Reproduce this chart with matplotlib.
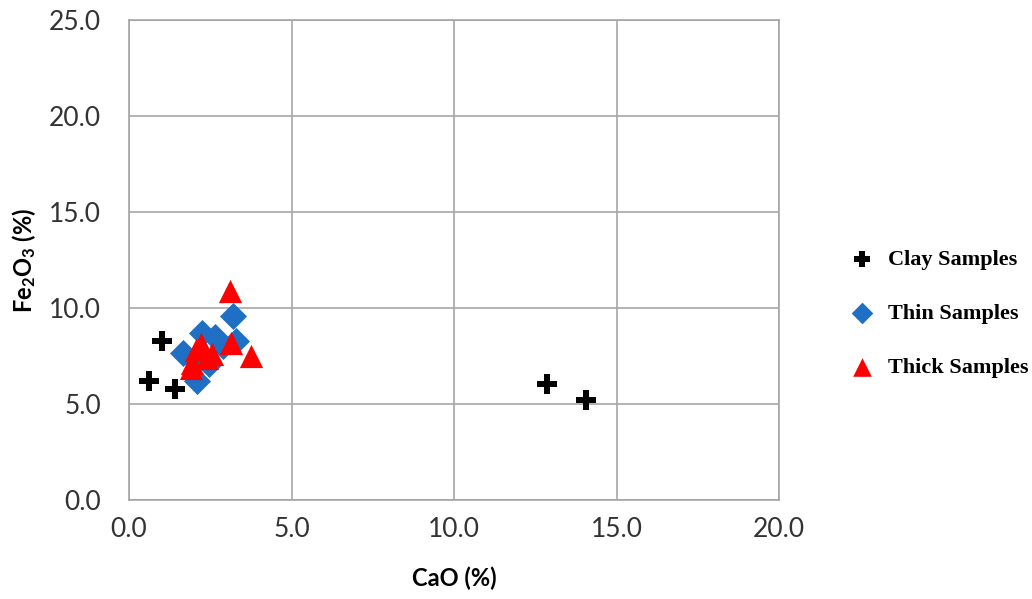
import matplotlib
matplotlib.use("Agg")
import matplotlib.pyplot as plt

plt.rcParams['font.family'] = ['Lato', 'DejaVu Sans']
plt.rcParams['mathtext.fontset'] = 'custom'
plt.rcParams['mathtext.rm'] = 'Lato'
plt.rcParams['mathtext.bf'] = 'Lato:bold'

clay_cao = [0.6, 1.0, 1.4, 12.85, 14.05]
clay_fe = [6.2, 8.3, 5.8, 6.05, 5.2]

thin_cao = [3.2, 1.65, 2.1, 2.25, 2.65, 3.3, 2.45, 2.9, 2.0]
thin_fe = [9.6, 7.65, 6.2, 8.7, 8.5, 8.3, 7.1, 8.0, 7.3]

thick_cao = [3.1, 3.75, 2.05, 1.95, 2.55, 3.15, 1.9, 2.2, 2.4]
thick_fe = [10.9, 7.5, 7.8, 7.15, 7.6, 8.2, 6.9, 8.1, 7.4]

x_ticks = [0, 5, 10, 15, 20]
y_ticks = [0, 5, 10, 15, 20, 25]

fig = plt.figure(figsize=(10.32, 5.99), dpi=100)
ax = fig.add_axes([129/1032, 99/599, 650/1032, 480/599])

ax.scatter(thin_cao, thin_fe, marker='D', s=190, color='#1F6FC5', zorder=3,
           label='Thin Samples', linewidths=0)
ax.scatter(thick_cao, thick_fe, marker='^', s=280, color='#FF0000', zorder=4,
           label='Thick Samples', linewidths=0)
ax.scatter(clay_cao, clay_fe, marker='P', s=200, color='black', zorder=5,
           label='Clay Samples', linewidths=0)

ax.set_xlim(0, 20)
ax.set_ylim(0, 25)
ax.set_xticks(x_ticks)
ax.set_yticks(y_ticks)
ax.set_xticklabels([f"{v:.1f}" for v in x_ticks])
ax.set_yticklabels([f"{v:.1f}" for v in y_ticks])
ax.tick_params(length=0, labelsize=19, colors='#333333')
ax.tick_params(axis='y', pad=20)
ax.tick_params(axis='x', pad=12)
ax.grid(True, color='#a6a6a6', linewidth=1.2)
ax.set_axisbelow(True)
for s in ax.spines.values():
    s.set_color('#a6a6a6')
    s.set_linewidth(1.2)

ax.set_xlabel('CaO (%)', fontsize=17, fontweight='bold', labelpad=18)
ax.set_ylabel(r'$\mathbf{Fe_2O_3}$ (%)', fontsize=17, fontweight='bold', labelpad=8)

handles, labels = ax.get_legend_handles_labels()
order = [2, 0, 1]
leg = fig.legend([handles[i] for i in order], [labels[i] for i in order],
                 loc='center left', bbox_to_anchor=(0.82, 0.476), frameon=False,
                 prop={'family': 'Liberation Serif', 'weight': 'bold', 'size': 16},
                 labelspacing=1.5, handlelength=1.0, handletextpad=0.7,
                 markerscale=0.8, borderaxespad=0, borderpad=0.2)

fig.savefig('out.png', dpi=100)
